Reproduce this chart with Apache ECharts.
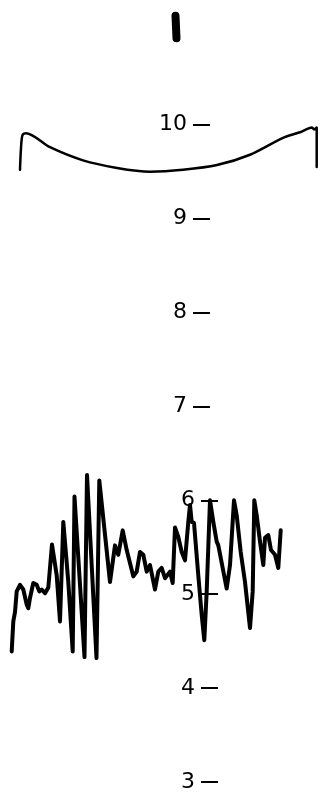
<!DOCTYPE html>
<html>
<head>
<meta charset="utf-8">
<script src="https://cdn.jsdelivr.net/npm/echarts@6/dist/echarts.min.js"></script>
<style>
html,body{margin:0;padding:0;background:#fff;}
#chart{width:320px;height:794px;}
</style>
</head>
<body>
<div id="chart"></div>
<script>
// Tick labels on the vertical scale
const tickValues = [3, 4, 5, 6, 7, 8, 9, 10];

// Upper curved trace (horizontal position, value)
const arcX = [20, 21, 22.5, 26, 50, 83, 117, 150, 183, 217, 250, 283, 300, 312, 314, 316.7, 316.7];
const arcY = [9.52, 9.75, 9.89, 9.91, 9.76, 9.62, 9.54, 9.50, 9.52, 9.57, 9.68, 9.86, 9.92, 9.97, 9.95, 9.97, 9.55];

// Lower oscillating trace
const traceX = [11.7,13.3,15,16.7,20,23.3,26.7,28.3,30,33.3,36.7,39.3,41.7,45,48.3,52,53.3,56.7,60,61.5,63.3,65,68.3,72.7,74.5,84.5,87,96.5,99.3,110,115,118.3,122.7,126.7,133.3,136.7,140,143.3,146.7,150,155,158.3,161.7,165,170,172.7,175,178.3,181.7,185,188.3,190,191.7,194,198.3,201.7,204.3,206.7,210,213.3,216.7,218.3,226.7,230,234,236.7,240.7,245,250,252.7,254.3,256.7,260,263.3,265,268.3,271,275,278.3,280.7];
const traceY = [4.39,4.71,4.81,5.03,5.10,5.05,4.89,4.85,4.96,5.12,5.10,5.03,5.05,5.01,5.07,5.53,5.55,5.20,4.71,4.69,5.77,5.77,5.13,4.39,6.04,4.33,6.27,4.32,6.21,5.13,5.52,5.42,5.68,5.47,5.19,5.24,5.45,5.42,5.24,5.31,5.05,5.24,5.28,5.17,5.24,5.12,5.71,5.61,5.45,5.36,5.77,5.95,5.77,5.76,5.20,4.78,4.51,5.03,6.00,5.77,5.56,5.52,5.06,5.31,6.00,5.84,5.45,5.13,4.64,5.03,6.00,5.84,5.56,5.31,5.60,5.63,5.47,5.42,5.28,5.68];

// Small mark at the top
const markX = [175.5, 176.5];
const markY = [11.16, 10.92];

const zip = (xs, ys) => xs.map((x, i) => [x, ys[i]]);

const upperTicks = tickValues.filter(v => v >= 7);
const lowerTicks = tickValues.filter(v => v <= 6);
const vMin = Math.min(...tickValues), vMax = Math.max(...tickValues);

const plotTop = 124.7;
const unit = 93.9;

function axisStyle(ticks, gridIndex) {
  return {
    type: 'value', gridIndex: gridIndex,
    min: Math.min(...ticks), max: Math.max(...ticks), interval: 1,
    axisLine: { show: false },
    splitLine: { show: false },
    axisTick: { show: true, inside: true, length: 17, lineStyle: { color: '#000', width: 2 } },
    axisLabel: { show: true, margin: 6, color: '#000', fontFamily: 'DejaVu Sans', fontSize: 22 }
  };
}

const chart = echarts.init(document.getElementById('chart'), null, { renderer: 'canvas' });
chart.setOption({
  backgroundColor: '#fff',
  animation: false,
  grid: [
    { left: 0, width: 320, top: plotTop, height: (vMax - vMin) * unit, outerBoundsMode: 'none' },
    { left: 193, width: 20, top: plotTop, height: 3 * unit, outerBoundsMode: 'none' },
    { left: 201, width: 20, top: plotTop + (vMax - 6) * unit, height: 3 * unit, outerBoundsMode: 'none' }
  ],
  xAxis: [
    { type: 'value', gridIndex: 0, min: 0, max: 320, show: false },
    { type: 'value', gridIndex: 1, min: 0, max: 1, show: false },
    { type: 'value', gridIndex: 2, min: 0, max: 1, show: false }
  ],
  yAxis: [
    { type: 'value', gridIndex: 0, min: vMin, max: vMax, show: false },
    axisStyle(upperTicks, 1),
    axisStyle(lowerTicks, 2)
  ],
  series: [
    {
      type: 'line', xAxisIndex: 0, yAxisIndex: 0, data: zip(arcX, arcY),
      showSymbol: false, clip: false, silent: true, smooth: 0.3,
      lineStyle: { color: '#000', width: 2.5, join: 'round', cap: 'round' }
    },
    {
      type: 'line', xAxisIndex: 0, yAxisIndex: 0, data: zip(traceX, traceY),
      showSymbol: false, clip: false, silent: true,
      lineStyle: { color: '#000', width: 4, join: 'round', cap: 'round' }
    },
    {
      type: 'line', xAxisIndex: 0, yAxisIndex: 0, data: zip(markX, markY),
      showSymbol: false, clip: false, silent: true,
      lineStyle: { color: '#000', width: 8, cap: 'round' }
    }
  ]
});
</script>
</body>
</html>
